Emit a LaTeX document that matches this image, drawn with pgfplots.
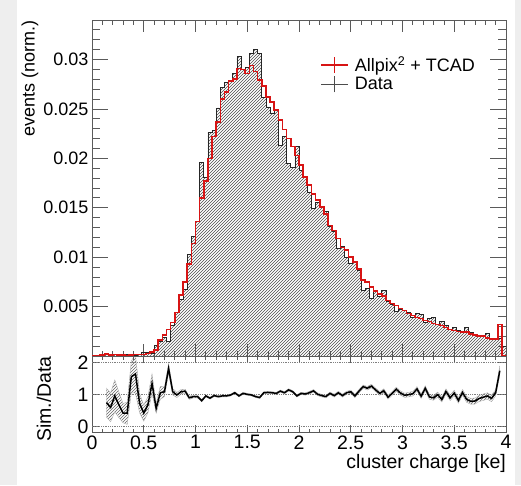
\documentclass[border=0pt]{standalone}
\usepackage{pgfplots}
\pgfplotsset{compat=1.18}
\usepackage{pgfplotstable}
\usetikzlibrary{patterns}
\usepackage{fontspec}
\setmainfont{Liberation Sans}
\definecolor{bgstrip}{RGB}{238,238,238}
\definecolor{rootred}{RGB}{215,20,20}
\definecolor{frame}{RGB}{90,90,90}

\pgfplotstableread{
x D S
0.00 0 0
0.04 0 0
0.08 0.0001 0.0001
0.12 0.0003 0.0002
0.16 0.0002 0.00012
0.20 0.00015 0.00014
0.24 0.00015 0.0001
0.28 0.0002 0.00008
0.32 0.00015 0.00006
0.36 0.00008 0.00012
0.40 0.0001 0.00016
0.44 0.0002 0.00015
0.48 0.0004 0.00017
0.52 0.0004 0.00027
0.56 0.0003 0.0004
0.60 0.0011 0.0006
0.64 0.0015 0.0016
0.68 0.0019 0.0021
0.72 0.0015 0.0027
0.76 0.0031 0.0034
0.80 0.0044 0.0044
0.84 0.0057 0.0062
0.88 0.0067 0.0075
0.92 0.0103 0.0093
0.96 0.0121 0.0114
1.00 0.0136 0.0136
1.04 0.0196 0.0160
1.08 0.0181 0.0177
1.12 0.0226 0.0200
1.16 0.0228 0.0222
1.20 0.0251 0.0237
1.24 0.0272 0.0260
1.28 0.0277 0.0267
1.32 0.0278 0.0278
1.36 0.0286 0.0280
1.40 0.0303 0.0291
1.44 0.0290 0.0290
1.48 0.0292 0.0286
1.52 0.0306 0.0294
1.56 0.0310 0.0288
1.60 0.0306 0.0279
1.64 0.0262 0.0273
1.68 0.0252 0.0262
1.72 0.0246 0.0257
1.76 0.0249 0.0249
1.80 0.0213 0.0239
1.84 0.0222 0.0229
1.88 0.0195 0.0220
1.92 0.0191 0.0212
1.96 0.0212 0.0203
2.00 0.0188 0.0193
2.04 0.0181 0.0181
2.08 0.0166 0.0173
2.12 0.0149 0.0164
2.16 0.0155 0.0158
2.20 0.0150 0.0151
2.24 0.0146 0.0144
2.28 0.0131 0.0132
2.32 0.0126 0.0127
2.36 0.0109 0.0119
2.40 0.0111 0.0110
2.44 0.0100 0.0107
2.48 0.0094 0.0100
2.52 0.0096 0.0095
2.56 0.0087 0.0088
2.60 0.0066 0.0077
2.64 0.0068 0.0075
2.68 0.0058 0.0070
2.72 0.0066 0.0066
2.76 0.0060 0.0063
2.80 0.0066 0.0061
2.84 0.0055 0.0056
2.88 0.0052 0.0053
2.92 0.0045 0.0051
2.96 0.0047 0.0048
3.00 0.0046 0.0046
3.04 0.0044 0.0043
3.08 0.0039 0.0041
3.12 0.0043 0.0039
3.16 0.0042 0.0038
3.20 0.0034 0.0036
3.24 0.0038 0.0035
3.28 0.0039 0.0033
3.32 0.0032 0.0032
3.36 0.0035 0.0031
3.40 0.0031 0.0029
3.44 0.0027 0.0027
3.48 0.0029 0.0026
3.52 0.0026 0.0025
3.56 0.0024 0.0024
3.60 0.0029 0.0024
3.64 0.0024 0.0022
3.68 0.0022 0.0021
3.72 0.0020 0.0020
3.76 0.0020 0.0020
3.80 0.0023 0.0018
3.84 0.0018 0.0017
3.88 0.0017 0.0017
3.92 0.0018 0.0032
3.96 0.0010 0
4.00 0.0010 0
}\histtab

\pgfplotstableread{
x r e
0.14 0.75 0.45
0.18 0.60 0.45
0.22 0.96 0.5
0.26 0.68 0.4
0.30 0.42 0.3
0.34 0.42 0.35
0.38 1.56 0.5
0.42 1.65 0.6
0.46 0.73 0.3
0.50 0.42 0.25
0.54 0.68 0.25
0.58 1.35 0.3
0.62 0.57 0.15
0.66 1.06 0.2
0.70 1.09 0.15
0.74 1.82 0.15
0.78 1.09 0.1
0.82 0.99 0.08
0.86 1.09 0.07
0.90 1.11 0.06
0.94 0.90 0.05
0.98 0.94 0.04
1.02 0.94 0.04
1.06 0.81 0.035
1.10 0.96 0.03
1.14 0.89 0.03
1.18 0.97 0.03
1.22 0.94 0.03
1.26 0.96 0.03
1.30 0.96 0.03
1.34 0.99 0.03
1.38 1.06 0.03
1.42 0.96 0.03
1.46 1.04 0.03
1.50 1.01 0.03
1.54 0.99 0.03
1.58 0.94 0.03
1.62 0.91 0.03
1.66 1.06 0.03
1.70 1.07 0.03
1.74 1.06 0.03
1.78 1.04 0.03
1.82 1.11 0.035
1.86 1.06 0.035
1.90 1.15 0.035
1.94 1.09 0.035
1.98 0.96 0.035
2.02 1.04 0.035
2.06 1.02 0.035
2.10 1.06 0.04
2.14 1.12 0.04
2.18 1.01 0.04
2.22 0.97 0.04
2.26 0.94 0.04
2.30 1.04 0.04
2.34 0.97 0.045
2.38 1.06 0.045
2.42 0.97 0.045
2.46 1.06 0.045
2.50 1.09 0.05
2.54 0.96 0.05
2.58 1.11 0.05
2.62 1.25 0.05
2.66 1.20 0.055
2.70 1.27 0.055
2.74 1.15 0.055
2.78 1.04 0.06
2.82 1.12 0.06
2.86 0.92 0.06
2.90 1.04 0.06
2.94 1.17 0.065
2.98 1.05 0.065
3.02 0.98 0.065
3.06 1.00 0.07
3.10 1.03 0.07
3.14 1.18 0.07
3.18 0.95 0.07
3.22 1.20 0.075
3.26 0.93 0.075
3.30 0.90 0.075
3.34 1.00 0.08
3.38 0.85 0.08
3.42 1.10 0.08
3.46 0.90 0.085
3.50 1.05 0.085
3.54 0.82 0.085
3.58 1.07 0.09
3.62 0.85 0.09
3.66 0.79 0.09
3.70 0.80 0.095
3.74 0.88 0.095
3.78 0.92 0.1
3.82 0.96 0.1
3.86 0.88 0.1
3.90 1.06 0.1
3.94 1.75 0.15
}\ratiotab

\pgfplotsset{
  rootaxis/.style={
    scale only axis, width=414pt,
    xmin=0, xmax=4,
    axis line style={frame, line width=1pt},
    every tick/.style={frame, line width=0.8pt},
    tick align=inside,
    scaled ticks=false,
    xtick={0,0.5,1,1.5,2,2.5,3,3.5,4},
    minor xtick={0,0.1,...,4.01},
    /pgf/number format/assume math mode=true,
  },
  legimg/.style={legend image code/.code={
      \draw (0pt,0pt) -- (27pt,0pt);
      \draw (13.5pt,-8pt) -- (13.5pt,8pt);}},
}

\begin{document}
\begin{tikzpicture}
\path[use as bounding box] (0pt,-485pt) rectangle (521pt,0pt);
\fill[white] (0pt,-485pt) rectangle (521pt,0pt);
\fill[bgstrip] (0pt,-485pt) rectangle (17pt,0pt);
\fill[bgstrip] (515pt,-485pt) rectangle (521pt,0pt);

\begin{axis}[rootaxis,
  font=\fontsize{18}{21}\selectfont,
  at={(92pt,-356pt)}, anchor=south west, height=336pt,
  ymin=0, ymax=0.034,
  xticklabels={},
  ytick={0.005,0.01,0.015,0.02,0.025,0.03},
  yticklabels={0.005,0.01,0.015,0.02,0.025,0.03},
  minor ytick={0.001,0.002,...,0.0345},
  xtick style={/pgfplots/major tick length=12pt,/pgfplots/minor tick length=5pt},
  ytick style={/pgfplots/major tick length=16pt,/pgfplots/minor tick length=8pt},
  ylabel={events (norm.)},
  ylabel style={at={(axis description cs:-0.150,1)}, anchor=east, inner sep=0pt},
  legend style={at={(rel axis cs:0.551,0.897)}, anchor=north west, draw=none, fill=none,
    inner sep=0pt, row sep=0pt, font=\fontsize{18}{21}\selectfont,
    nodes={inner xsep=6pt}},
  legend cell align=left,
]
\addplot[const plot mark left, draw=black!85, line width=0.7pt,
  pattern=north east lines, pattern color=black!70, forget plot]
  table[x=x,y=D]{\histtab} \closedcycle;
\addplot[const plot mark left, draw=rootred, line width=1.6pt, forget plot]
  table[x=x,y=S]{\histtab};
\addlegendimage{rootred, line width=1.6pt, legimg}
\addlegendentry{Allpix\textsuperscript{2} + TCAD}
\addlegendimage{black!70, line width=0.7pt, legimg}
\addlegendentry{Data}
\end{axis}

% band (stacked) in an overlay axis with no decorations
\begin{axis}[
  at={(92pt,-432pt)}, anchor=south west, scale only axis, width=414pt, height=76pt,
  xmin=0, xmax=4, ymin=-0.17, ymax=2.21,
  axis lines=none, ticks=none, stack plots=y,
]
\addplot[draw=none, forget plot] table[x=x, y expr=\thisrow{r}-\thisrow{e}]{\ratiotab};
\addplot[draw=gray!60, line width=0.4pt, pattern=north east lines, pattern color=black!60, forget plot]
  table[x=x, y expr=2*\thisrow{e}]{\ratiotab} \closedcycle;
\end{axis}

\begin{axis}[rootaxis,
  font=\fontsize{19.5}{23}\selectfont,
  at={(92pt,-432pt)}, anchor=south west, height=76pt,
  ymin=-0.17, ymax=2.21,
  xticklabels={0,0.5,1,1.5,2,2.5,3,3.5,4},
  ytick={0,1,2}, yticklabels={0,1,2},
  xtick style={/pgfplots/major tick length=7pt,/pgfplots/minor tick length=3.5pt},
  ytick style={/pgfplots/major tick length=8pt},
  xlabel={cluster charge [ke]},
  xlabel style={at={(axis description cs:1,-0.42)}, anchor=east, inner sep=0pt},
  ylabel={Sim./Data},
  ylabel style={at={(axis description cs:-0.116,1)}, anchor=east, inner sep=0pt},
]
\addplot[densely dotted, gray, line width=0.8pt, forget plot] coordinates {(0,0) (4,0)};
\addplot[densely dotted, gray, line width=0.8pt, forget plot] coordinates {(0,1) (4,1)};
\addplot[densely dotted, gray, line width=0.8pt, forget plot] coordinates {(0,2) (4,2)};
\addplot[black, line width=1.5pt, forget plot] table[x=x,y=r]{\ratiotab};
\end{axis}
\end{tikzpicture}
\end{document}
